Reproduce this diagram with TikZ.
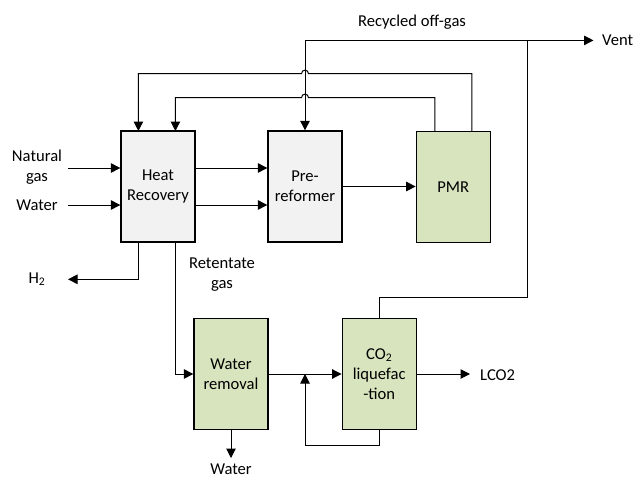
\documentclass[tikz,border=0pt]{standalone}
\usepackage{fontspec}
\setmainfont{Carlito}
\usetikzlibrary{arrows.meta}
\definecolor{boxgrey}{HTML}{F2F2F2}
\definecolor{boxgreen}{HTML}{D7E4BD}
\begin{document}
\begin{tikzpicture}[x=1pt,y=-1pt,
  font=\fontsize{16.6}{20}\selectfont,
  box/.style={draw=black,line width=1.3pt,minimum width=74pt,minimum height=111pt,inner sep=1pt,align=center},
  greybox/.style={box,fill=boxgrey},
  greenbox/.style={box,fill=boxgreen},
  flow/.style={line width=1pt,-{Triangle[length=9.5pt,width=9.5pt]}},
  plain/.style={line width=1pt},
  lbl/.style={inner sep=0pt,align=center}]
\useasboundingbox[fill=white] (0,0) rectangle (637,477);

\node[greybox] (hr) at (158,186.5) {Heat\\Recovery};
\node[greybox] (pre) at (305,186.5) {Pre-\\reformer};
\node[greenbox] (pmr) at (453.3,187) {PMR};
\node[greenbox] (wr) at (231,374) {Water\\removal};
\node[greenbox] (co2) at (379.2,374) {CO\textsubscript{2}\\liquefac\\-tion};

% inputs
\coordinate (ng) at (67.7,168);
\coordinate (wa) at (67.7,205);
\draw[flow] (ng) -- (ng -| hr.west);
\draw[flow] (wa) -- (wa -| hr.west);
\draw[flow] ([yshift=18.5pt]hr.east) -- ([yshift=18.5pt]pre.west);
\draw[flow] ([yshift=-18.5pt]hr.east) -- ([yshift=-18.5pt]pre.west);
\draw[flow] (pre.east) -- (pre.east -| pmr.west);

% H2 and retentate
\coordinate (h2end) at (68,279.3);
\draw[flow] ([xshift=-19.5pt]hr.south) |- (h2end);
\draw[flow] ([xshift=17.5pt]hr.south) |- (wr.west);

% bottom train
\coordinate (wout) at (231,458);
\draw[flow] (wr.south) -- (wout);
\draw[flow] (wr.east) -- (co2.west);
\coordinate (fb) at (305,445.7);
\draw[flow] (co2.south) |- (fb) -- (fb |- co2.west);
\coordinate (lco2) at (470,374);
\draw[flow] (co2.east) -- (lco2);

% off-gas to vent / recycle
\coordinate (split) at (305,40.4);
\coordinate (j) at (527.7,40.4);
\coordinate (vent) at (593.5,40.4);
\draw[plain] (co2.north) -- (379.2,297.7) -- (527.7,297.7) -- (j);
\draw[flow] (split) -- (vent);
\draw[flow] (split) -- (pre.north);

% recycle loops from PMR with line hops
\draw[flow] ([xshift=18.5pt]pmr.north) -- (471.8,73.7) -- (308.5,73.7)
  .. controls (308.5,69) and (301.5,69) .. (301.5,73.7) -- (138.4,73.7) -- (138.4,131);
\draw[flow] ([xshift=-18.5pt]pmr.north) -- (434.8,97.7) -- (308.5,97.7)
  .. controls (308.5,93) and (301.5,93) .. (301.5,97.7) -- (175.4,97.7) -- (175.4,131);

% labels
\node[lbl] (lng) at (37,167) {Natural\\gas};
\node[lbl] (lwa) at (37,205) {Water};
\node[lbl] (lh2) at (37,279) {H\textsubscript{2}};
\node[lbl] (lret) at (222,275) {Retentate\\gas};
\node[lbl] (lrec) at (412,22) {Recycled off-gas};
\node[lbl,anchor=west] (lvent) at (602,40.4) {Vent};
\node[lbl,anchor=west] (llco2) at (480,375) {LCO2};
\node[lbl] (lwout) at (231,469) {Water};
\end{tikzpicture}
\end{document}
